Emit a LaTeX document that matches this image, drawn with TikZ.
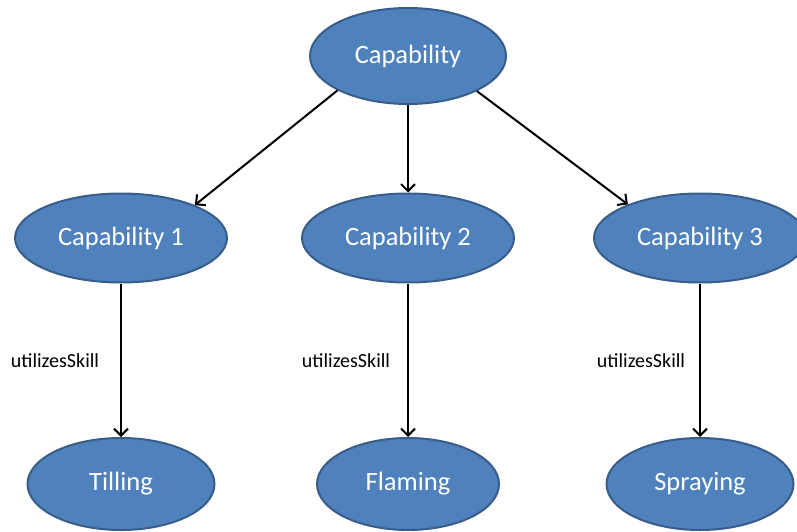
\documentclass[tikz,border=0pt]{standalone}
\usepackage{fontspec}
\setmainfont{Carlito}
\usetikzlibrary{shapes.geometric,arrows.meta}
\definecolor{capfill}{HTML}{4F81BD}
\definecolor{capline}{HTML}{385D8A}
\tikzset{
  capnode/.style={ellipse, draw=capline, fill=capfill, line width=2pt,
    text=white, font=\fontsize{26.5}{30}\selectfont, inner sep=0pt},
  link/.style={draw=black, line width=2pt, -{Straight Barb[length=7pt,width=14pt,line width=2pt]}},
  edgelabel/.style={font=\fontsize{20}{24}\selectfont, text=black}
}
\begin{document}
\begin{tikzpicture}[x=1pt,y=-1pt]
\useasboundingbox (0,0) rectangle (797,532);
\clip (0,0) rectangle (797,532);
% root and the three capabilities
\node[capnode, minimum width=196pt, minimum height=96pt] (root) at (408,56) {Capability};
\node[capnode, minimum width=212pt, minimum height=89pt] (c1) at (121,238) {Capability 1};
\node[capnode, minimum width=212pt, minimum height=89pt] (c2) at (408,238) {Capability 2};
\node[capnode, minimum width=212pt, minimum height=89pt] (c3) at (700,238) {Capability 3};
% skills
\node[capnode, minimum width=187pt, minimum height=92pt] (s1) at (121,484) {Tilling};
\node[capnode, minimum width=182pt, minimum height=92pt] (s2) at (408,484) {Flaming};
\node[capnode, minimum width=187pt, minimum height=92pt] (s3) at (700,484) {Spraying};
% hierarchy
\draw[link] (root.206.6) -- (c1.24.7);
\draw[link] (root.south) -- (c2.north);
\draw[link] (root.333.4) -- (c3.155.3);
% skill links
\draw[link] (c1.south) -- (s1.north);
\draw[link] (c2.south) -- (s2.north);
\draw[link] (c3.south) -- (s3.north);
\node[edgelabel] (l1) at (55,361) {utilizesSkill};
\node[edgelabel] (l2) at (346,361) {utilizesSkill};
\node[edgelabel] (l3) at (641,361) {utilizesSkill};
\end{tikzpicture}
\end{document}
